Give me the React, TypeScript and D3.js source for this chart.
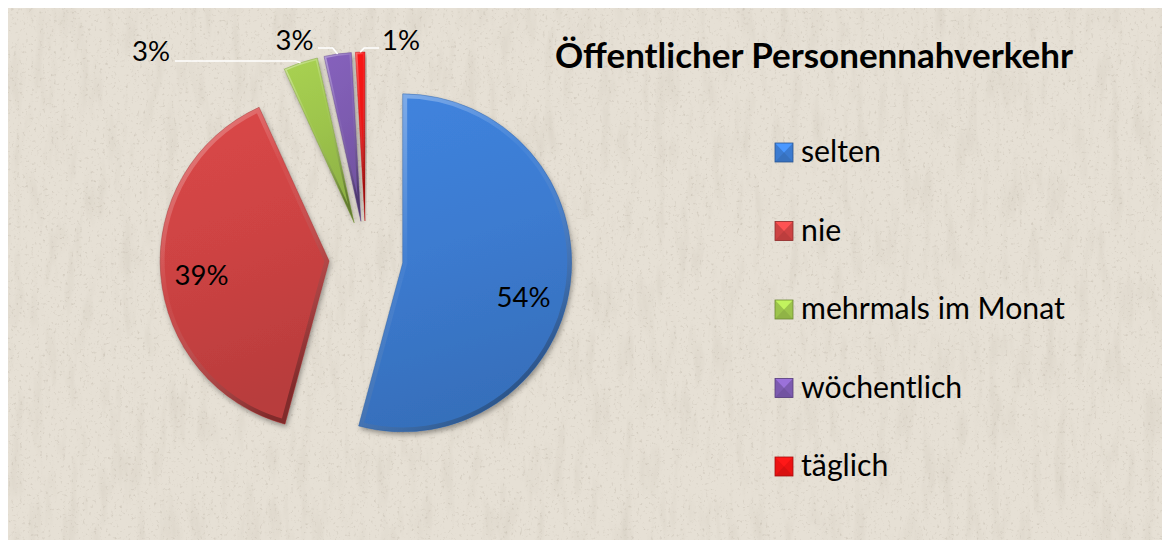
import React, { useEffect, useRef } from "react";
import * as d3 from "d3";

// ---- data ----
const categories = ["selten", "nie", "mehrmals im Monat", "wöchentlich", "täglich"];
const values = [54.2, 39.0, 3.3, 2.6, 0.9];
const percentLabels = ["54%", "39%", "3%", "3%", "1%"];
const colors = ["#3c7bd0", "#cd4343", "#9dc44c", "#7d5bb0", "#ec1313"];
const title = "Öffentlicher Personennahverkehr";

// ---- layout ----
const W = 1162;
const H = 540;
const CX = 366;
const CY = 258;
const R = 169;
const EXPLODE = 37;
const FONT = "Lato, 'Open Sans', 'Noto Sans', sans-serif";

// label anchors (centre x, baseline y)
const labelPos: [number, number][] = [
  [523.5, 307],
  [201.5, 285],
  [151, 61],
  [294.5, 50],
  [401, 50],
];
// leader line start points (for outside labels)
const leaderFrom: ([number, number] | null)[] = [null, null, [175, 61], [318, 48], [379, 48]];

export default function App() {
  const ref = useRef<SVGSVGElement>(null);

  useEffect(() => {
    const svg = d3.select(ref.current as SVGSVGElement);
    svg.selectAll("*").remove();
    const defs = svg.append("defs");

    // paper texture: vertical streaks
    const nf = defs
      .append("filter")
      .attr("id", "paper")
      .attr("x", 0)
      .attr("y", 0)
      .attr("width", "100%")
      .attr("height", "100%");
    nf.append("feTurbulence")
      .attr("type", "fractalNoise")
      .attr("baseFrequency", "0.09 0.018")
      .attr("numOctaves", 3)
      .attr("seed", 11);
    nf.append("feColorMatrix")
      .attr("type", "matrix")
      .attr("values", "0 0 0 0 0.6  0 0 0 0 0.55  0 0 0 0 0.47  2.4 0 0 0 -1.15");

    // speckles
    const sp = defs
      .append("filter")
      .attr("id", "speck")
      .attr("x", 0)
      .attr("y", 0)
      .attr("width", "100%")
      .attr("height", "100%");
    sp.append("feTurbulence")
      .attr("type", "fractalNoise")
      .attr("baseFrequency", "0.35")
      .attr("numOctaves", 2)
      .attr("seed", 4);
    sp.append("feColorMatrix")
      .attr("type", "matrix")
      .attr("values", "0 0 0 0 0.45  0 0 0 0 0.4  0 0 0 0 0.33  4 0 0 0 -2.4");

    const sh = defs
      .append("filter")
      .attr("id", "shadow")
      .attr("x", "-20%")
      .attr("y", "-20%")
      .attr("width", "140%")
      .attr("height", "140%");
    sh.append("feDropShadow")
      .attr("dx", 1.5)
      .attr("dy", 3)
      .attr("stdDeviation", 2.5)
      .attr("flood-color", "#000")
      .attr("flood-opacity", 0.35);

    const bev = defs
      .append("linearGradient")
      .attr("id", "bevel")
      .attr("x1", 0)
      .attr("y1", 0)
      .attr("x2", 0.6)
      .attr("y2", 1);
    bev.append("stop").attr("offset", 0).attr("stop-color", "#fff").attr("stop-opacity", 0.4);
    bev.append("stop").attr("offset", 0.45).attr("stop-color", "#fff").attr("stop-opacity", 0.04);
    bev.append("stop").attr("offset", 1).attr("stop-color", "#000").attr("stop-opacity", 0.3);

    // background
    svg.append("rect").attr("width", W).attr("height", H).attr("fill", "#ffffff");
    svg.append("rect").attr("x", 8).attr("y", 8).attr("width", W - 8).attr("height", H - 8).attr("fill", "#e6e0d5");
    svg.append("rect")
      .attr("x", 8)
      .attr("y", 8)
      .attr("width", W - 8)
      .attr("height", H - 8)
      .attr("filter", "url(#paper)")
      .attr("opacity", 0.3);
    svg.append("rect")
      .attr("x", 8)
      .attr("y", 8)
      .attr("width", W - 8)
      .attr("height", H - 8)
      .attr("filter", "url(#speck)")
      .attr("opacity", 0.35);

    const pie = d3
      .pie<number>()
      .sort(null)
      .startAngle(0)
      .endAngle(2 * Math.PI)
      .value((d) => d);
    const arcs = pie(values);
    const arc = d3.arc<d3.PieArcDatum<number>>().innerRadius(0).outerRadius(R);

    const apex = arcs.map((a) => {
      const mid = (a.startAngle + a.endAngle) / 2;
      return [CX + EXPLODE * Math.sin(mid), CY - EXPLODE * Math.cos(mid)] as [number, number];
    });

    arcs.forEach((a, i) => {
      const c = d3.color(colors[i]) as d3.RGBColor;
      const grad = defs
        .append("linearGradient")
        .attr("id", `fill${i}`)
        .attr("x1", 0)
        .attr("y1", 0)
        .attr("x2", 0.2)
        .attr("y2", 1);
      grad.append("stop").attr("offset", 0).attr("stop-color", c.brighter(0.2).formatHex());
      grad.append("stop").attr("offset", 0.5).attr("stop-color", c.formatHex());
      grad.append("stop").attr("offset", 1).attr("stop-color", c.darker(0.3).formatHex());

      const p = arc(a) as string;
      defs.append("clipPath").attr("id", `clip${i}`).append("path").attr("d", p);
      const g = svg.append("g").attr("transform", `translate(${apex[i][0]},${apex[i][1]})`);
      g.append("path").attr("d", p).attr("fill", `url(#fill${i})`).attr("filter", "url(#shadow)");
      g.append("path")
        .attr("d", p)
        .attr("fill", "none")
        .attr("stroke", "url(#bevel)")
        .attr("stroke-width", i >= 2 ? 4 : 9)
        .attr("clip-path", `url(#clip${i})`);
      g.append("path")
        .attr("d", p)
        .attr("fill", "none")
        .attr("stroke", c.darker(0.8).formatHex())
        .attr("stroke-opacity", 0.5)
        .attr("stroke-width", 0.8);
    });

    // leader lines
    arcs.forEach((a, i) => {
      const from = leaderFrom[i];
      if (!from) return;
      const mid = (a.startAngle + a.endAngle) / 2;
      const mx = apex[i][0] + R * Math.sin(mid);
      const my = apex[i][1] - R * Math.cos(mid);
      const elbowX = from[0] < mx ? mx - 5 : mx + 4;
      const line = d3.line();
      svg.append("path")
        .attr("d", line([from, [elbowX, from[1]], [mx, my]]) as string)
        .attr("fill", "none")
        .attr("stroke", "#ffffff")
        .attr("stroke-width", 1.6);
    });

    // percent labels
    const labels = svg
      .selectAll("text.pct")
      .data(percentLabels)
      .enter()
      .append("text")
      .attr("class", "pct")
      .attr("x", (_, i) => labelPos[i][0])
      .attr("y", (_, i) => labelPos[i][1])
      .attr("text-anchor", "middle")
      .attr("font-family", FONT)
      .attr("font-size", 30)
      .attr("fill", "#000")
      .text((d) => d);
    const pctNode = labels.nodes()[0] as SVGTextElement;
    const pctSize = (30 * 54) / pctNode.getComputedTextLength();
    labels.attr("font-size", pctSize);

    // title
    const t = svg
      .append("text")
      .attr("x", 555)
      .attr("y", 68)
      .attr("font-family", FONT)
      .attr("font-weight", "bold")
      .attr("font-size", 30)
      .attr("fill", "#000")
      .text(title);
    const tSize = (30 * 518) / (t.node() as SVGTextElement).getComputedTextLength();
    t.attr("font-size", tSize);

    // legend
    const lg = svg.append("g");
    const rows = lg
      .selectAll("g.row")
      .data(categories)
      .enter()
      .append("g")
      .attr("class", "row")
      .attr("transform", (_, i) => `translate(0,${162 + i * 78.5})`);
    rows.each(function (_, i) {
      const r = d3.select(this);
      const c = d3.color(colors[i]) as d3.RGBColor;
      const x0 = 775, x1 = 793, y0 = -19, y1 = 0;
      const cxm = (x0 + x1) / 2, cym = (y0 + y1) / 2;
      r.append("rect").attr("x", x0).attr("y", y0).attr("width", x1 - x0).attr("height", y1 - y0).attr("fill", c.formatHex());
      r.append("polygon")
        .attr("points", `${x0},${y0} ${x1},${y0} ${cxm},${cym}`)
        .attr("fill", c.brighter(0.6).formatHex());
      r.append("polygon")
        .attr("points", `${x0},${y1} ${x1},${y1} ${cxm},${cym}`)
        .attr("fill", c.darker(0.25).formatHex());
      r.append("rect")
        .attr("x", x0)
        .attr("y", y0)
        .attr("width", x1 - x0)
        .attr("height", y1 - y0)
        .attr("fill", "none")
        .attr("stroke", c.darker(1).formatHex())
        .attr("stroke-width", 0.8);
    });
    const ltexts = rows
      .append("text")
      .attr("x", 801)
      .attr("y", 0)
      .attr("font-family", FONT)
      .attr("font-size", 30)
      .attr("fill", "#000")
      .text((d) => d);
    const refNode = ltexts.nodes()[2] as SVGTextElement;
    const lSize = (30 * 264) / refNode.getComputedTextLength();
    ltexts.attr("font-size", lSize);
  }, []);

  return (
    <svg
      ref={ref}
      width={W}
      height={H}
      style={{ position: "fixed", left: 0, top: 0, display: "block" }}
    />
  );
}
